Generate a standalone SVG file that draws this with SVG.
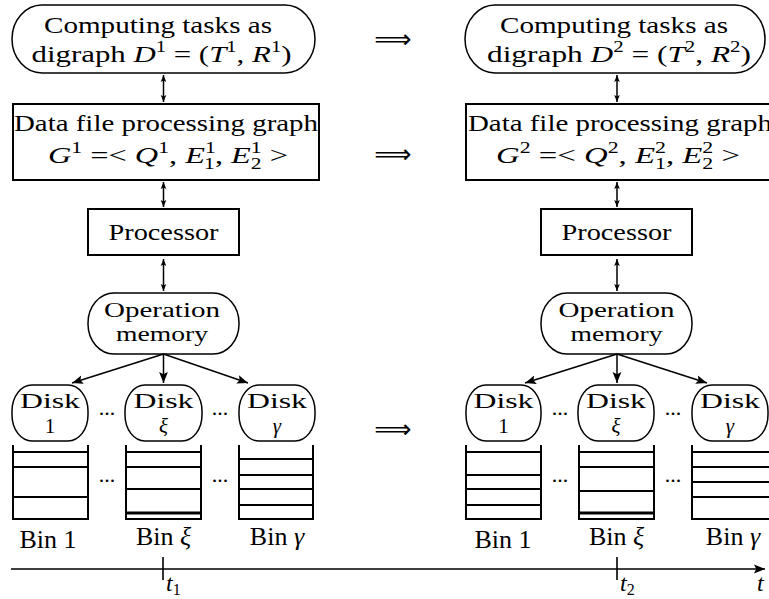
<svg xmlns="http://www.w3.org/2000/svg" width="769" height="599" viewBox="0 0 769 599">
<style>
text{font-family:'Liberation Serif',serif;font-size:24px;fill:#000}
.m{text-anchor:middle}
.i{font-style:italic}
.s{font-size:16px}
.sm{font-size:21px}
.lb{font-size:26px}
.box{fill:none;stroke:#000;stroke-width:2}
.rnd{fill:none;stroke:#000;stroke-width:1.5}
.bin{fill:none;stroke:#000;stroke-width:2}
.c{fill:none;stroke:#000;stroke-width:1.5}
.dots{font-size:22px}
.imp{font-family:'DejaVu Sans',sans-serif;font-size:26px;text-anchor:middle}
</style>
<defs>
<marker id="ah" viewBox="0 0 10 10" refX="10" refY="5" markerWidth="7" markerHeight="7" markerUnits="userSpaceOnUse" orient="auto-start-reverse">
<path d="M0,1 L10,5 L0,9 L2,5 Z" fill="#000"/>
</marker>
<marker id="ah2" viewBox="0 0 10 10" refX="10" refY="5" markerWidth="11" markerHeight="11" markerUnits="userSpaceOnUse" orient="auto">
<path d="M0,1 L10,5 L0,9 L2,5 Z" fill="#000"/>
</marker>
</defs>
<g font-family="Liberation Serif, serif">
<!-- LEFT STACK -->
<g id="tasks1">
<rect class="rnd" x="12" y="5" width="303" height="68" rx="30" ry="34"/>
<text class="m" x="158" y="33" textLength="228" lengthAdjust="spacingAndGlyphs">Computing tasks as</text>
<text class="m" x="161.5" y="62" textLength="260" lengthAdjust="spacingAndGlyphs">digraph <tspan class="i">D</tspan><tspan class="s" dy="-10">1</tspan><tspan dy="10"> = (</tspan><tspan class="i">T</tspan><tspan class="s" dy="-10">1</tspan><tspan dy="10">, </tspan><tspan class="i">R</tspan><tspan class="s" dy="-10">1</tspan><tspan dy="10">)</tspan></text>
</g>
<g id="dfpg1">
<rect class="box" x="13" y="104" width="306" height="76"/>
<text class="m" x="166" y="131" textLength="304" lengthAdjust="spacingAndGlyphs">Data file processing graph</text>
<text class="m" x="168" y="163" textLength="240" lengthAdjust="spacingAndGlyphs"><tspan class="i">G</tspan><tspan class="s" dy="-10">1</tspan><tspan dy="10"> =&lt; </tspan><tspan class="i">Q</tspan><tspan class="s" dy="-10">1</tspan><tspan dy="10">, </tspan><tspan class="i">E</tspan><tspan class="s" dy="-10">1</tspan><tspan class="s" dx="-8" dy="16">1</tspan><tspan dy="-6">, </tspan><tspan class="i">E</tspan><tspan class="s" dy="-10">1</tspan><tspan class="s" dx="-8" dy="16">2</tspan><tspan dy="-6"> &gt;</tspan></text>
</g>
<g id="proc1">
<rect class="box" x="88" y="209" width="151" height="46"/>
<text class="m" x="163.5" y="240" textLength="110" lengthAdjust="spacingAndGlyphs">Processor</text>
</g>
<g id="mem1">
<rect class="rnd" x="88" y="293" width="151" height="61" rx="26" ry="30"/>
<text class="m sm" x="162" y="317" textLength="116" lengthAdjust="spacingAndGlyphs">Operation</text>
<text class="m sm" x="162" y="341" textLength="92" lengthAdjust="spacingAndGlyphs">memory</text>
</g>
<g id="disk1a">
<rect class="rnd" x="12" y="385" width="76" height="56" rx="20" ry="26"/>
<text class="m sm" x="50" y="408" textLength="60" lengthAdjust="spacingAndGlyphs">Disk</text>
<text class="m sm" x="50" y="433">1</text>
</g>
<g id="diskxa">
<rect class="rnd" x="125" y="385" width="77" height="56" rx="20" ry="26"/>
<text class="m sm" x="163.5" y="408" textLength="60" lengthAdjust="spacingAndGlyphs">Disk</text>
<text class="m sm i" x="163.5" y="433">ξ</text>
</g>
<g id="diskga">
<rect class="rnd" x="239" y="385" width="76" height="56" rx="20" ry="26"/>
<text class="m sm" x="277" y="408" textLength="60" lengthAdjust="spacingAndGlyphs">Disk</text>
<text class="m sm i" x="277" y="433">γ</text>
</g>
<g id="bin1a">
<path class="bin" d="M13,445 V519 H88 V445 M13,452 H88 M13,467 H88 M13,497 H88"/>
<text class="m lb" x="48" y="548">Bin 1</text>
</g>
<g id="binxa">
<path class="bin" d="M126,445 V519 H201 V445 M126,452 H201 M126,467 H201 M126,489 H201"/>
<path d="M126,513 H201" stroke="#000" stroke-width="3"/>
<text class="m lb" x="163.5" y="545">Bin <tspan class="i">ξ</tspan></text>
</g>
<g id="binga">
<path class="bin" d="M239,445 V519 H313 V445 M239,459 H313 M239,475 H313 M239,489 H313 M239,505 H313"/>
<text class="m lb" x="277" y="545">Bin <tspan class="i">γ</tspan></text>
</g>
<g id="dots1">
<text class="m dots" x="107" y="415">...</text>
<text class="m dots" x="220" y="415">...</text>
<text class="m dots" x="107" y="482">...</text>
<text class="m dots" x="220" y="482">...</text>
</g>

<!-- RIGHT STACK -->
<g id="tasks2">
<rect class="rnd" x="465" y="5" width="300" height="68" rx="30" ry="34"/>
<text class="m" x="614" y="33" textLength="228" lengthAdjust="spacingAndGlyphs">Computing tasks as</text>
<text class="m" x="619" y="62" textLength="264" lengthAdjust="spacingAndGlyphs">digraph <tspan class="i">D</tspan><tspan class="s" dy="-10">2</tspan><tspan dy="10"> = (</tspan><tspan class="i">T</tspan><tspan class="s" dy="-10">2</tspan><tspan dy="10">, </tspan><tspan class="i">R</tspan><tspan class="s" dy="-10">2</tspan><tspan dy="10">)</tspan></text>
</g>
<g id="dfpg2">
<rect class="box" x="466" y="104" width="306" height="76"/>
<text class="m" x="620" y="131" textLength="304" lengthAdjust="spacingAndGlyphs">Data file processing graph</text>
<text class="m" x="618" y="163" textLength="244" lengthAdjust="spacingAndGlyphs"><tspan class="i">G</tspan><tspan class="s" dy="-10">2</tspan><tspan dy="10"> =&lt; </tspan><tspan class="i">Q</tspan><tspan class="s" dy="-10">2</tspan><tspan dy="10">, </tspan><tspan class="i">E</tspan><tspan class="s" dy="-10">2</tspan><tspan class="s" dx="-8" dy="16">1</tspan><tspan dy="-6">, </tspan><tspan class="i">E</tspan><tspan class="s" dy="-10">2</tspan><tspan class="s" dx="-8" dy="16">2</tspan><tspan dy="-6"> &gt;</tspan></text>
</g>
<g id="proc2">
<rect class="box" x="541" y="209" width="151" height="46"/>
<text class="m" x="616.5" y="240" textLength="110" lengthAdjust="spacingAndGlyphs">Processor</text>
</g>
<g id="mem2">
<rect class="rnd" x="541" y="293" width="151" height="61" rx="26" ry="30"/>
<text class="m sm" x="616.5" y="317" textLength="116" lengthAdjust="spacingAndGlyphs">Operation</text>
<text class="m sm" x="616.5" y="341" textLength="92" lengthAdjust="spacingAndGlyphs">memory</text>
</g>
<g id="disk1b">
<rect class="rnd" x="466" y="385" width="75" height="56" rx="20" ry="26"/>
<text class="m sm" x="503.5" y="408" textLength="60" lengthAdjust="spacingAndGlyphs">Disk</text>
<text class="m sm" x="503.5" y="433">1</text>
</g>
<g id="diskxb">
<rect class="rnd" x="578" y="385" width="76" height="56" rx="20" ry="26"/>
<text class="m sm" x="616" y="408" textLength="60" lengthAdjust="spacingAndGlyphs">Disk</text>
<text class="m sm i" x="616" y="433">ξ</text>
</g>
<g id="diskgb">
<rect class="rnd" x="692" y="385" width="76" height="56" rx="20" ry="26"/>
<text class="m sm" x="730" y="408" textLength="60" lengthAdjust="spacingAndGlyphs">Disk</text>
<text class="m sm i" x="730" y="433">γ</text>
</g>
<g id="bin1b">
<path class="bin" d="M466,445 V519 H541 V445 M466,452 H541 M466,475 H541 M466,489 H541 M466,505 H541"/>
<text class="m lb" x="503" y="548">Bin 1</text>
</g>
<g id="binxb">
<path class="bin" d="M579,445 V519 H654 V445 M579,452 H654 M579,467 H654 M579,491 H654"/>
<path d="M579,513 H654" stroke="#000" stroke-width="3"/>
<text class="m lb" x="616.5" y="545">Bin <tspan class="i">ξ</tspan></text>
</g>
<g id="bingb">
<path class="bin" d="M692,445 V519 H770 M692,452 H770 M692,467 H770 M692,482 H770 M692,497 H770"/>
<text class="m lb" x="733" y="545">Bin <tspan class="i">γ</tspan></text>
</g>
<g id="dots2">
<text class="m dots" x="560" y="415">...</text>
<text class="m dots" x="673" y="415">...</text>
<text class="m dots" x="560" y="482">...</text>
<text class="m dots" x="673" y="482">...</text>
</g>

<!-- implications -->
<g id="implies">
<text class="imp" x="393" y="48">⟹</text>
<text class="imp" x="393" y="163">⟹</text>
<text class="imp" x="393" y="438">⟹</text>
</g>

<!-- CONNECTORS -->
<g id="connectors">
<line class="c" x1="163.5" y1="75" x2="163.5" y2="102" marker-start="url(#ah)" marker-end="url(#ah)"/>
<line class="c" x1="163.5" y1="182" x2="163.5" y2="207" marker-start="url(#ah)" marker-end="url(#ah)"/>
<line class="c" x1="163.5" y1="259" x2="163.5" y2="291" marker-start="url(#ah)" marker-end="url(#ah)"/>
<line class="c" x1="163.5" y1="354" x2="72" y2="383" marker-end="url(#ah2)"/>
<line class="c" x1="163.5" y1="354" x2="163.5" y2="383" marker-end="url(#ah2)"/>
<line class="c" x1="163.5" y1="354" x2="248" y2="383" marker-end="url(#ah2)"/>

<line class="c" x1="617" y1="75" x2="617" y2="102" marker-start="url(#ah)" marker-end="url(#ah)"/>
<line class="c" x1="617" y1="182" x2="617" y2="207" marker-start="url(#ah)" marker-end="url(#ah)"/>
<line class="c" x1="617" y1="259" x2="617" y2="291" marker-start="url(#ah)" marker-end="url(#ah)"/>
<line class="c" x1="617" y1="354" x2="525" y2="383" marker-end="url(#ah2)"/>
<line class="c" x1="617" y1="354" x2="617" y2="383" marker-end="url(#ah2)"/>
<line class="c" x1="617" y1="354" x2="707" y2="383" marker-end="url(#ah2)"/>
</g>

<!-- time axis -->
<g id="axis">
<line x1="11" y1="569" x2="765" y2="569" stroke="#000" stroke-width="1.6" marker-end="url(#ah2)"/>
<line x1="163" y1="557" x2="163" y2="580" stroke="#000" stroke-width="1.6"/>
<line x1="617" y1="557" x2="617" y2="580" stroke="#000" stroke-width="1.6"/>
<text class="i" x="166" y="591">t<tspan class="s" font-style="normal" dy="4">1</tspan></text>
<text class="i" x="620" y="591">t<tspan class="s" font-style="normal" dy="4">2</tspan></text>
<text class="i" x="757" y="591">t</text>
</g>
</g>
</svg>
